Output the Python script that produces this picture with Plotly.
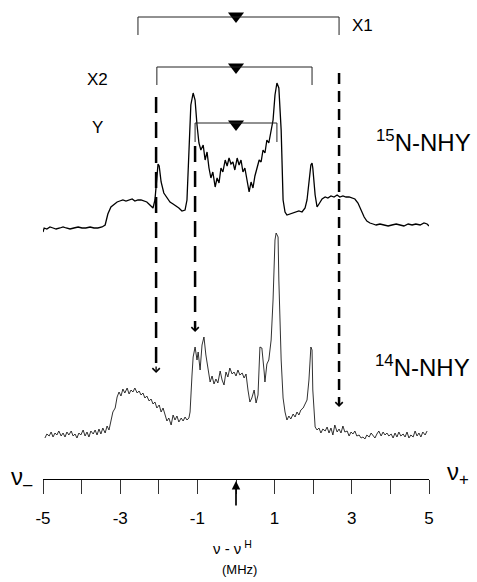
import plotly.graph_objects as go

# ---------------- data (frequency in MHz, intensity in arbitrary units) ----------------
freq_15N = [-5.00, -4.97, -4.90, -4.82, -4.74, -4.66, -4.56, -4.48, -4.40, -4.30,
            -4.20, -4.09, -3.99, -3.89, -3.78, -3.68, -3.58, -3.47, -3.39, -3.32,
            -3.24, -3.16, -3.08, -3.01, -2.93, -2.85, -2.77, -2.69, -2.62, -2.54,
            -2.46, -2.38, -2.31, -2.23, -2.15, -2.10, -2.05, -2.02, -1.99, -1.94,
            -1.87, -1.79, -1.71, -1.63, -1.55, -1.48, -1.40, -1.32, -1.27, -1.22,
            -1.17, -1.11, -1.06, -1.01, -0.96, -0.91, -0.85, -0.80, -0.75, -0.70,
            -0.65, -0.60, -0.54, -0.49, -0.44, -0.39, -0.34, -0.28, -0.23, -0.18,
            -0.13, -0.08, -0.03, 0.03, 0.08, 0.13, 0.18, 0.23, 0.28, 0.34,
            0.39, 0.44, 0.49, 0.54, 0.60, 0.65, 0.70, 0.75, 0.80, 0.85,
            0.91, 0.96, 1.01, 1.06, 1.11, 1.17, 1.22, 1.27, 1.32, 1.40,
            1.48, 1.55, 1.63, 1.71, 1.79, 1.84, 1.89, 1.94, 1.97, 1.99,
            2.05, 2.10, 2.15, 2.23, 2.31, 2.38, 2.46, 2.54, 2.62, 2.69,
            2.77, 2.85, 2.93, 3.01, 3.08, 3.16, 3.24, 3.32, 3.39, 3.47,
            3.55, 3.63, 3.73, 3.83, 3.94, 4.04, 4.15, 4.25, 4.35, 4.46,
            4.56, 4.66, 4.77, 4.87, 4.95, 5.00]
int_15N = [-4, 0, -1, 1, 0, -1, 0, 1, 0, -1,
           0, 1, 0, 0, 1, 0, 0, 1, 3, 14,
           21, 24, 26, 27, 28, 27, 28, 29, 27, 28,
           28, 27, 26, 23, 20, 28, 53, 64, 62, 46,
           35, 31, 26, 24, 22, 20, 17, 18, 28, 78,
           123, 135, 128, 103, 85, 78, 83, 68, 76, 60,
           50, 56, 41, 50, 45, 60, 56, 68, 62, 70,
           64, 66, 58, 70, 63, 68, 56, 60, 47, 36,
           46, 40, 52, 60, 68, 66, 78, 75, 88, 85,
           96, 108, 133, 145, 140, 98, 28, 16, 13, 14,
           15, 16, 17, 16, 20, 28, 43, 63, 65, 60,
           33, 21, 24, 29, 31, 30, 32, 31, 33, 31,
           32, 31, 31, 30, 29, 25, 18, 11, 7, 5,
           4, 3, 4, 3, 2, 3, 4, 3, 2, 4,
           3, 4, 3, 5, 4, 2]

freq_14N = [-4.95, -4.90, -4.84, -4.79, -4.74, -4.69, -4.64, -4.59, -4.53, -4.48,
            -4.43, -4.38, -4.33, -4.27, -4.22, -4.17, -4.12, -4.07, -4.02, -3.96,
            -3.91, -3.86, -3.81, -3.76, -3.70, -3.65, -3.60, -3.55, -3.50, -3.45,
            -3.39, -3.34, -3.29, -3.24, -3.19, -3.13, -3.08, -3.03, -2.98, -2.93,
            -2.88, -2.82, -2.77, -2.72, -2.67, -2.62, -2.56, -2.51, -2.46, -2.41,
            -2.36, -2.31, -2.25, -2.20, -2.15, -2.10, -2.05, -1.99, -1.94, -1.89,
            -1.84, -1.79, -1.74, -1.68, -1.63, -1.58, -1.53, -1.48, -1.42, -1.37,
            -1.32, -1.27, -1.22,
            -1.19, -1.14, -1.11, -1.06, -1.01, -0.98, -0.93,
            -0.88, -0.83, -0.78, -0.73, -0.67, -0.62, -0.57, -0.52, -0.47, -0.41,
            -0.36, -0.31, -0.26, -0.21, -0.16, -0.10, -0.05, 0.00, 0.05, 0.10,
            0.16, 0.21, 0.26, 0.31, 0.36, 0.41, 0.47, 0.52, 0.57,
            0.62, 0.67, 0.73, 0.75, 0.80, 0.85, 0.91, 0.96, 1.01, 1.04, 1.09, 1.11, 1.17,
            1.22, 1.27, 1.32, 1.37, 1.42, 1.48, 1.53, 1.58, 1.63, 1.68, 1.74, 1.79, 1.84, 1.89, 1.94,
            1.97, 1.99,
            2.05, 2.10, 2.15, 2.20, 2.25, 2.31, 2.36, 2.41, 2.46, 2.51,
            2.56, 2.62, 2.67, 2.72, 2.77, 2.82, 2.88, 2.93, 2.98, 3.03,
            3.08, 3.13, 3.19, 3.24, 3.29, 3.34, 3.39, 3.45, 3.50, 3.55,
            3.60, 3.65, 3.70, 3.76, 3.81, 3.86, 3.91, 3.96, 4.02, 4.07,
            4.12, 4.17, 4.22, 4.27, 4.33, 4.38, 4.43, 4.48, 4.53, 4.59,
            4.64, 4.69, 4.74, 4.79, 4.84, 4.90, 4.95]
int_14N = [-1, 3, 1, 5, 0, 4, 2, 6, 1, 4,
           0, 5, 2, 6, 1, 3, -1, 4, 2, 7,
           1, 5, 0, 6, 3, 7, 2, 8, 3, 9,
           4, 11, 7, 15, 25, 29, 40, 45, 41, 48,
           44, 49, 43, 47, 45, 49, 44, 46, 42, 44,
           39, 41, 36, 38, 33, 35, 29, 32, 25, 29,
           21, 16, 19, 12, 22, 17, 21, 15, 19, 16,
           20, 17, 19,
           25, 62, 80, 90, 77, 85, 67,
           92, 100, 82, 69, 55, 61, 53, 58, 54, 66,
           57, 52, 65, 60, 69, 63, 65, 61, 67, 62,
           64, 59, 63, 47, 35, 39, 47, 34, 42,
           90, 89, 65, 55, 73, 77, 97, 137, 197, 204, 200, 157, 77,
           39, 25, 17, 21, 18, 23, 20, 25, 22, 27, 29, 33, 37, 57, 90,
           87, 47,
           10, 7, 9, 4, 8, 6, 10, 4, 9, 2,
           12, 5, 8, 4, 11, 5, 6, 1, 5, 3,
           6, 1, 2, -1, 0, -2, 2, 0, 4, 1,
           -1, 3, 6, 1, 5, 2, 4, 1, 3, -1,
           4, 0, 5, 1, 3, 0, 5, -1, 2, 0,
           6, 1, 4, 0, 5, 2, 6]

tick_vals = [-5, -4, -3, -2, -1, 0, 1, 2, 3, 4, 5]
tick_text = ["-5", "", "-3", "", "-1", "", "1", "", "3", "", "5"]

bracket_labels = ["X1", "X2", "Y"]
bracket_lo = [-2.54, -2.05, -1.06]
bracket_hi = [2.67, 1.97, 1.06]
bracket_center = [0.0, 0.0, 0.0]

link_x = [-2.07, -1.06, 2.67]   # dashed correlation arrows (MHz)

# ---------------- layout geometry ----------------
W, H = 477, 582
ML, MR, MT, MB = 43, 48, 0, 103
PW, PH = W - ML - MR, H - MT - MB   # 386 x 479


def yd(py):          # pixel row -> data y
    return PH - py


def xp(px):          # pixel column -> paper x
    return (px - ML) / PW


def yp(py):          # pixel row -> paper y
    return (PH - py) / PH


FONT = "Arial, Liberation Sans, sans-serif"
base_15N, base_14N = 228, 437

fig = go.Figure()
fig.add_trace(go.Scatter(x=freq_15N, y=[v + yd(base_15N) for v in int_15N], mode="lines",
                         line=dict(color="black", width=1.3), hoverinfo="skip"))
fig.add_trace(go.Scatter(x=freq_14N, y=[v + yd(base_14N) for v in int_14N], mode="lines",
                         line=dict(color="#1a1a1a", width=0.9), hoverinfo="skip"))

shapes = []
annotations = []

# brackets with triangles
br_line_y = [17, 67, 123]
br_end_y = [35, 85, 142]
br_tri_y = [16, 67, 124]
br_label_pos = [(350, 25, "left"), (85, 79, "left"), (97, 128, "center")]
for i in range(3):
    ly, ey = yd(br_line_y[i]), yd(br_end_y[i])
    shapes.append(dict(type="path", xref="x", yref="y",
                       path=f"M{bracket_lo[i]},{ey} L{bracket_lo[i]},{ly} L{bracket_hi[i]},{ly} L{bracket_hi[i]},{ey}",
                       line=dict(color="#222", width=1)))
    lx, lyy, anc = br_label_pos[i]
    annotations.append(dict(text=bracket_labels[i], xref="paper", yref="paper", x=xp(lx), y=yp(lyy),
                            xanchor=anc, yanchor="middle", showarrow=False,
                            font=dict(family=FONT, size=17, color="black")))
fig.add_trace(go.Scatter(x=bracket_center, y=[yd(v) for v in br_tri_y], mode="markers",
                         marker=dict(symbol="triangle-down", size=14, color="black", line=dict(width=0)),
                         hoverinfo="skip", cliponaxis=False))

# dashed correlation arrows
link_top = [97, 146, 73]
link_tip = [373, 332, 407]
link_dash = ["16px,9px", "16px,9px", "11px,7px"]
for i in range(3):
    shapes.append(dict(type="line", xref="x", yref="y", x0=link_x[i], x1=link_x[i],
                       y0=yd(link_top[i]), y1=yd(link_tip[i] - 2),
                       line=dict(color="black", width=2.5, dash=link_dash[i])))
    annotations.append(dict(text="", xref="x", yref="y", x=link_x[i], y=yd(link_tip[i]),
                            ax=0, ay=-8, showarrow=True, arrowhead=4, arrowsize=1.1,
                            arrowwidth=1.3, arrowcolor="black", standoff=0))

# sample labels
annotations.append(dict(text="<sup>15</sup>N-NHY", xref="paper", yref="paper", x=xp(374), y=yp(141),
                        xanchor="left", yanchor="middle", showarrow=False,
                        font=dict(family=FONT, size=24, color="black")))
annotations.append(dict(text="<sup>14</sup>N-NHY", xref="paper", yref="paper", x=xp(373), y=yp(366),
                        xanchor="left", yanchor="middle", showarrow=False,
                        font=dict(family=FONT, size=24, color="black")))

# axis end labels and titles
annotations.append(dict(text="ν<sub>–</sub>", xref="paper", yref="paper", x=xp(9), y=yp(478),
                        xanchor="left", yanchor="middle", showarrow=False,
                        font=dict(family=FONT, size=24, color="black")))
annotations.append(dict(text="ν<sub>+</sub>", xref="paper", yref="paper", x=xp(445), y=yp(473),
                        xanchor="left", yanchor="middle", showarrow=False,
                        font=dict(family=FONT, size=24, color="black")))
annotations.append(dict(text="ν - ν<sup> H</sup>", xref="paper", yref="paper", x=xp(232), y=yp(547),
                        xanchor="center", yanchor="middle", showarrow=False,
                        font=dict(family=FONT, size=15, color="black")))
annotations.append(dict(text="(MHz)", xref="paper", yref="paper", x=xp(239), y=yp(569),
                        xanchor="center", yanchor="middle", showarrow=False,
                        font=dict(family=FONT, size=13, color="black")))
# centre arrow under the axis
annotations.append(dict(text="", xref="x", yref="paper", x=0, y=yp(481), ax=0, ay=26,
                        showarrow=True, arrowhead=2, arrowsize=1.0, arrowwidth=1.7,
                        arrowcolor="black", standoff=0))

fig.update_layout(
    width=W, height=H,
    margin=dict(l=ML, r=MR, t=MT, b=MB, pad=0),
    paper_bgcolor="white", plot_bgcolor="white", showlegend=False,
    xaxis=dict(range=[-5, 5], showline=True, linecolor="black", linewidth=1,
               ticks="outside", ticklen=14, tickwidth=1, tickcolor="#333",
               tickvals=tick_vals, ticktext=tick_text, ticklabelstandoff=10,
               tickfont=dict(family=FONT, size=17, color="black"),
               showgrid=False, zeroline=False, fixedrange=True),
    yaxis=dict(range=[0, PH], visible=False, fixedrange=True),
    shapes=shapes, annotations=annotations,
)

fig.write_html("out.html", config={"displayModeBar": False},
               post_script="document.body.style.margin='0';document.body.style.padding='0';")
